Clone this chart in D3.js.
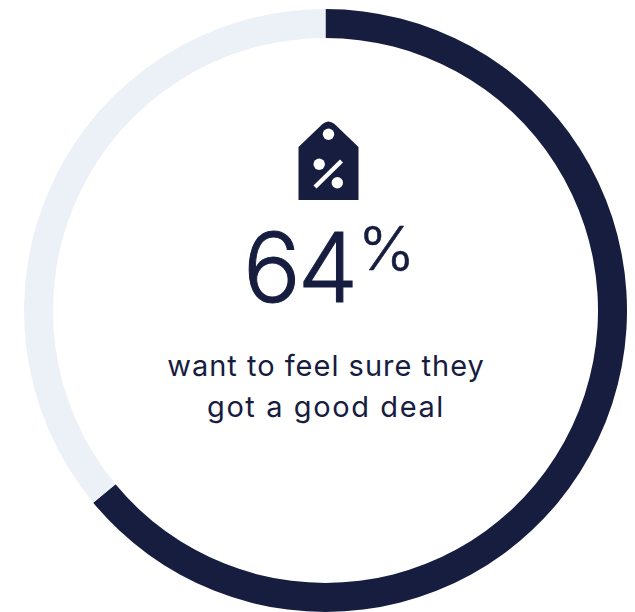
<!DOCTYPE html>
<html>
<head>
<meta charset="utf-8">
<style>
  html, body { margin: 0; padding: 0; background: #fff; }
  svg { display: block; }
  text { font-family: "Inter", sans-serif; fill: #171d3f; }
</style>
</head>
<body>
<div id="chart"></div>
<script src="https://cdn.jsdelivr.net/npm/d3@7"></script>
<script>
const categories = ["want to feel sure they got a good deal", "rest"];
const values = [64, 36];
const captionLines = ["want to feel sure they", "got a good deal"];

const width = 635;
const height = 612;
const cx = 325.5;
const cy = 310.5;
const outerRadius = 301.5;
const innerRadius = 272.5;
const colors = ["#171d3f", "#ecf1f8"];

const svg = d3
  .select("#chart")
  .append("svg")
  .attr("width", width)
  .attr("height", height);

const pie = d3.pie().sort(null);
const arc = d3.arc().innerRadius(innerRadius).outerRadius(outerRadius);

// ring
svg
  .append("g")
  .attr("transform", `translate(${cx},${cy})`)
  .selectAll("path")
  .data(pie(values))
  .enter()
  .append("path")
  .attr("d", arc)
  .attr("fill", (d, i) => colors[i]);

// price tag icon
const icon = svg.append("g").attr("transform", "translate(298.5,121)");
icon
  .append("path")
  .attr("d", "M0 26 L24 3 Q30 -2 36 3 L60 26 V79 H0 Z")
  .attr("fill", colors[0]);
icon.append("circle").attr("cx", 30).attr("cy", 13.3).attr("r", 5.7).attr("fill", "#fff");
icon.append("circle").attr("cx", 20.7).attr("cy", 43.3).attr("r", 5.7).attr("fill", "#fff");
icon.append("circle").attr("cx", 38.8).attr("cy", 61.7).attr("r", 5.7).attr("fill", "#fff");
icon
  .append("line")
  .attr("x1", 43)
  .attr("y1", 40)
  .attr("x2", 16.5)
  .attr("y2", 66)
  .attr("stroke", "#fff")
  .attr("stroke-width", 4.4);

// big number
svg
  .append("text")
  .attr("x", 243)
  .attr("y", 302)
  .attr("font-size", 96)
  .attr("font-weight", 300)
  .attr("letter-spacing", -3)
  .attr("stroke", colors[0])
  .attr("stroke-width", 1)
  .text(values[0]);

svg
  .append("text")
  .attr("x", 358)
  .attr("y", 270)
  .attr("font-size", 61)
  .attr("font-weight", 300)
  .attr("stroke", colors[0])
  .attr("stroke-width", 0.6)
  .text("%");

// caption
svg
  .selectAll(".caption")
  .data(captionLines)
  .enter()
  .append("text")
  .attr("class", "caption")
  .attr("x", 326)
  .attr("y", (d, i) => 376 + i * 41)
  .attr("text-anchor", "middle")
  .attr("font-size", 29)
  .attr("font-weight", 400)
  .attr("letter-spacing", (d, i) => (i === 0 ? 1 : 1.6))
  .text((d) => d);
</script>
</body>
</html>
